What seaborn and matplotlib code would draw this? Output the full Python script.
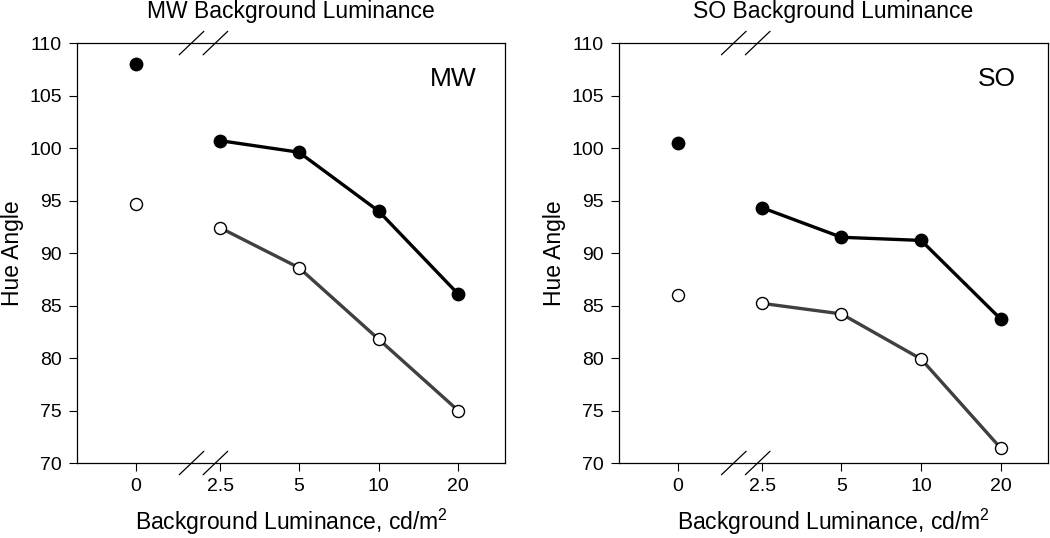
import numpy as np
import pandas as pd
import seaborn as sns
import matplotlib.pyplot as plt
import matplotlib.transforms as mtransforms

# luminance levels (cd/m2) and where they sit on the broken axis
lum_labels = ["0", "2.5", "5", "10", "20"]
lum_pos = [0, 1.06, 2.05, 3.05, 4.05]

panels = ["MW", "SO"]

# hue angle, filled (upper) and open (lower) series, first value at 0 cd/m2
mw_filled = [108.0, 100.7, 99.6, 94.0, 86.1]
mw_open = [94.7, 92.4, 88.6, 81.8, 75.0]
so_filled = [100.5, 94.3, 91.5, 91.2, 83.7]
so_open = [86.0, 85.2, 84.2, 79.9, 71.4]

data = {"MW": (mw_filled, mw_open), "SO": (so_filled, so_open)}

sns.set_style("ticks")
plt.rcParams['font.family'] = ['Liberation Sans', 'DejaVu Sans']
plt.rcParams['mathtext.fontset'] = 'custom'
plt.rcParams['mathtext.rm'] = 'Liberation Sans'
plt.rcParams['text.color'] = 'black'
plt.rcParams['axes.labelcolor'] = 'black'

fig = plt.figure(figsize=(10.5, 5.38), dpi=100)
axes = [fig.add_axes([0.0733, 0.1394, 0.4077, 0.7806]),
        fig.add_axes([0.5895, 0.1394, 0.4085, 0.7806])]

for ax, name in zip(axes, panels):
    filled, opn = data[name]
    df = pd.DataFrame({"pos": lum_pos, "filled": filled, "open": opn})
    line_df = df.iloc[1:]

    sns.lineplot(data=line_df, x="pos", y="open", ax=ax, color="#404040",
                 linewidth=2.4, zorder=2)
    sns.lineplot(data=line_df, x="pos", y="filled", ax=ax, color="black",
                 linewidth=2.4, zorder=2)
    sns.scatterplot(data=df, x="pos", y="open", ax=ax, s=75, color="white",
                    edgecolor="black", linewidth=1.0, zorder=3)
    sns.scatterplot(data=df, x="pos", y="filled", ax=ax, s=80, color="black",
                    edgecolor="black", linewidth=1.0, zorder=3)

    ax.set_xlim(-0.74, 4.64)
    ax.set_ylim(70, 110)
    ax.set_yticks(np.arange(70, 111, 5))
    ax.set_xticks(lum_pos)
    ax.set_xticklabels(lum_labels)
    ax.tick_params(axis="both", labelsize=14, length=6, width=0.8,
                   direction="out", pad=5, color="black", labelcolor="black")
    for sp in ax.spines.values():
        sp.set_visible(True)
        sp.set_linewidth(0.9)
        sp.set_color("black")

    ax.set_xlabel("Background Luminance, cd/m$^2$", fontsize=16.5, labelpad=8)
    ax.set_ylabel("Hue Angle", fontsize=16.5, labelpad=4)
    ax.set_title(f"{name} Background Luminance", fontsize=16.5, pad=18)
    ax.text(0.88, 0.915, name, transform=ax.transAxes, fontsize=19,
            ha="center", va="center")

    # axis break marks on top and bottom spines
    trans = mtransforms.blended_transform_factory(ax.transData, ax.transAxes)
    for bx in (0.70, 1.0):
        for by in (0.0, 1.0):
            ax.plot([bx - 0.155, bx + 0.155], [by - 0.028, by + 0.028],
                    transform=trans, color="black", linewidth=0.9,
                    clip_on=False, zorder=5)

fig.savefig("out.png", dpi=100)
